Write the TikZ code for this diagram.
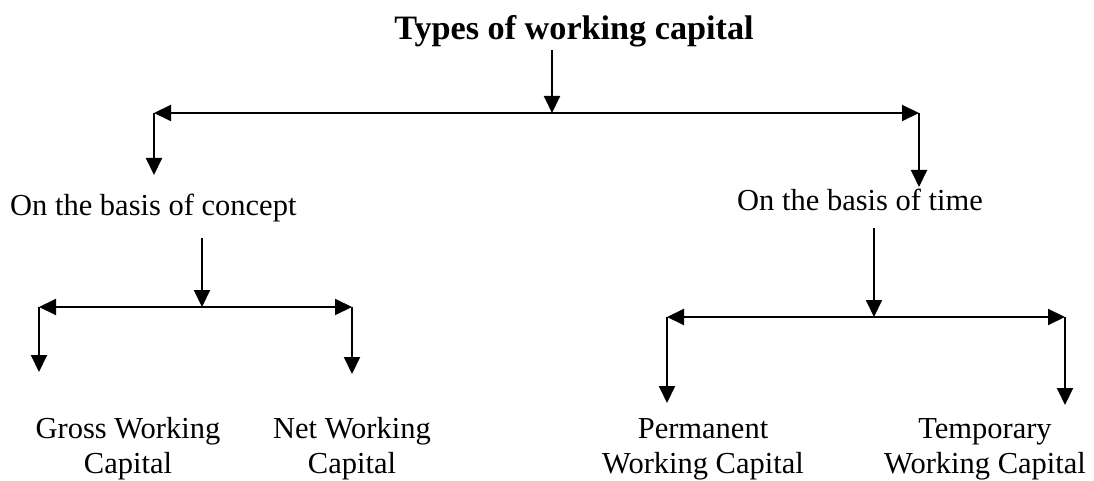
\documentclass[tikz,border=0pt]{standalone}
\usepackage{fontspec}
\setmainfont{Liberation Serif}
\usetikzlibrary{arrows.meta}

\begin{document}
\begin{tikzpicture}[x=1pt,y=-1pt,
  arr/.style={draw,line width=2pt,-{Triangle[length=17pt,width=16pt]}},
  txt/.style={inner sep=0pt,font=\fontsize{30.5}{35}\selectfont,align=center}]
\useasboundingbox (0,0) rectangle (1094,481);
\node[inner sep=0pt,anchor=base,font=\fontsize{34.2}{40}\selectfont\bfseries] (title) at (574,40) {Types of working capital};
% first split
\coordinate (t0) at (552,50);
\coordinate (t1) at (552,113);
\coordinate (l1) at (154,113);
\coordinate (r1) at (919,113);
\coordinate (l2) at (154,175);
\coordinate (r2) at (919,187);
\node[txt,anchor=base west] (concept) at (10,215) {On the basis of concept};
\node[txt,anchor=base west] (time) at (737,210) {On the basis of time};
\path[arr] (t0) -- (t1);
\path[arr] (t1) -- (l1);
\path[arr] (t1) -- (r1);
\path[arr] (l1) -- (l2);
\path[arr] (r1) -- (r2);
% concept branch
\coordinate (c0) at (202,238);
\coordinate (c1) at (202,307);
\coordinate (cl) at (39,307);
\coordinate (cr) at (352,307);
\coordinate (cl2) at (39,372);
\coordinate (cr2) at (352,374);
\node[txt,anchor=base] (gross) at (128,473) {Gross Working\\Capital};
\node[txt,anchor=base] (net) at (352,473) {Net Working\\Capital};
\path[arr] (c0) -- (c1);
\path[arr] (c1) -- (cl);
\path[arr] (c1) -- (cr);
\path[arr] (cl) -- (cl2);
\path[arr] (cr) -- (cr2);
% time branch
\coordinate (m0) at (874,228);
\coordinate (m1) at (874,317);
\coordinate (ml) at (667,317);
\coordinate (mr) at (1065,317);
\coordinate (ml2) at (667,403);
\coordinate (mr2) at (1065,405);
\node[txt,anchor=base] (perm) at (703,473) {Permanent\\Working Capital};
\node[txt,anchor=base] (temp) at (985,473) {Temporary\\Working Capital};
\path[arr] (m0) -- (m1);
\path[arr] (m1) -- (ml);
\path[arr] (m1) -- (mr);
\path[arr] (ml) -- (ml2);
\path[arr] (mr) -- (mr2);
\end{tikzpicture}
\end{document}
